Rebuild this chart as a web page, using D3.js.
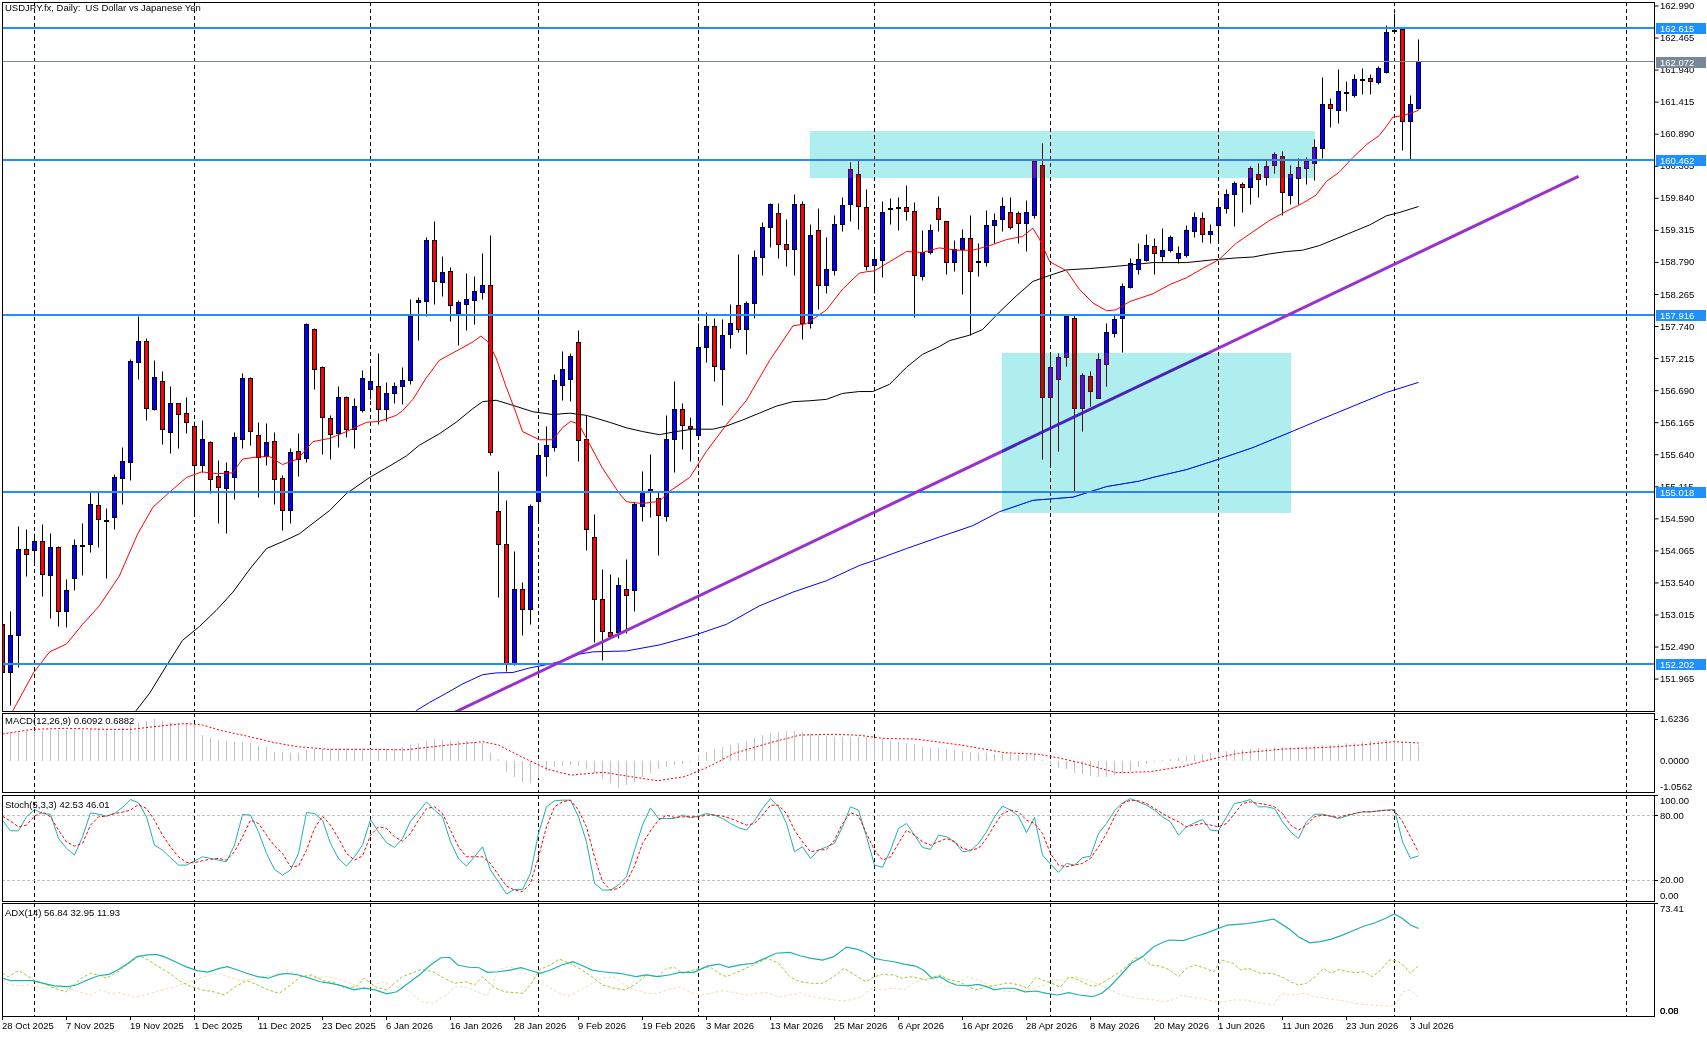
<!DOCTYPE html>
<html>
<head>
<meta charset="utf-8">
<script src="https://cdn.jsdelivr.net/npm/d3@7/dist/d3.min.js"></script>
<style>
	body { margin: 0; background: #fff; }
	svg { display: block; isolation: isolate; }
	svg text { font-family: "Liberation Sans", Arial, sans-serif; font-size: 9.5px; fill: #000; white-space: pre; }
</style>
</head>
<body>
<svg id="chart" width="1707" height="1037"></svg>
<script>
	/*globals d3*/
	'use strict';

	// ---- data ----
	var opens = [152.854,152.065,152.667,154.073,154.058,154.208,153.666,154.118,153.065,153.606,
		154.140,154.148,154.794,154.560,154.606,155.238,155.516,157.140,157.479,156.373,
		156.839,156.012,156.463,156.313,156.088,155.448,155.839,155.283,155.087,155.260,
		155.877,156.877,155.952,155.599,155.854,155.238,154.719,155.689,155.561,157.689,
		157.057,156.230,155.975,156.569,156.050,156.366,156.704,156.749,156.373,156.629,
		156.749,156.839,158.118,158.140,159.133,158.456,158.636,157.945,158.080,158.155,
		158.290,158.411,154.697,154.155,152.200,153.418,153.095,154.870,155.614,155.749,
		156.764,156.854,157.464,155.877,154.268,153.253,152.727,152.727,153.418,153.396,
		154.787,155.010,154.922,154.621,155.877,156.366,156.090,155.952,157.388,157.727,
		157.042,157.591,158.080,157.682,158.103,158.862,159.358,159.584,159.080,159.005,
		159.734,157.779,159.298,158.396,158.659,159.411,159.719,160.223,159.682,158.719,
		158.824,159.655,159.670,159.682,159.614,158.560,158.945,159.659,159.456,158.779,
		158.997,159.170,158.790,158.779,159.381,159.486,159.606,159.584,159.418,159.546,
		160.373,156.576,156.862,157.216,157.869,156.388,156.915,156.561,157.103,157.629,
		157.854,158.366,158.666,158.817,159.042,158.885,158.982,158.832,158.892,159.298,
		159.494,159.230,159.373,159.674,159.900,160.057,160.012,160.223,160.163,160.358,
		160.524,159.885,160.148,160.321,160.396,160.659,161.373,161.260,161.560,161.516,
		161.780,161.787,161.727,161.900,162.570,162.591,161.088,161.298];

	var highs = [152.930,153.058,154.449,154.411,154.336,154.486,154.343,154.130,153.591,154.246,
		154.509,155.012,155.012,154.757,155.313,155.749,157.193,157.892,157.539,157.178,
		156.990,156.742,156.470,156.576,156.178,156.185,155.850,155.539,155.501,155.990,
		156.967,156.900,156.163,156.140,155.990,155.298,155.734,155.975,157.779,157.700,
		157.080,156.276,156.742,156.580,156.561,157.005,157.042,157.291,156.817,156.817,
		157.065,158.178,158.208,159.185,159.456,158.885,158.704,158.155,158.599,158.546,
		158.922,159.230,155.358,154.885,154.043,153.531,154.809,155.787,156.088,156.952,
		157.328,157.291,157.666,156.276,154.659,153.757,153.666,153.621,153.922,154.847,
		155.358,155.636,155.010,156.276,156.824,156.463,156.238,157.779,157.967,157.869,
		157.854,158.095,158.907,158.140,158.982,159.433,159.749,159.749,159.486,159.900,
		159.772,159.396,159.659,159.193,159.546,159.847,160.411,160.448,159.982,159.020,
		159.772,159.832,159.847,160.035,159.757,159.298,159.396,159.869,159.460,159.148,
		159.321,159.546,159.095,159.636,159.576,159.847,159.847,159.610,159.794,160.448,
		160.734,157.291,157.291,157.907,157.907,156.967,156.990,157.291,157.779,157.907,
		158.433,158.847,159.095,159.245,159.170,159.343,159.223,159.042,159.381,159.599,
		159.600,159.396,159.794,159.982,160.110,160.088,160.351,160.396,160.448,160.576,
		160.599,160.373,160.486,160.501,160.802,161.817,161.463,161.937,161.749,161.855,
		161.952,161.855,161.990,162.666,162.854,162.610,161.516,162.441];

	var lows = [151.950,151.524,152.140,153.644,153.869,153.306,152.945,152.817,152.794,153.403,
		153.659,154.035,154.110,153.606,154.411,154.809,155.208,156.862,156.200,156.360,
		155.802,155.652,155.727,155.975,154.659,155.336,154.997,154.509,154.336,154.900,
		155.734,155.787,154.937,155.448,154.824,154.396,154.509,155.283,155.501,156.704,
		155.636,155.561,155.749,155.922,155.734,156.328,156.539,156.125,156.178,156.463,
		156.448,156.779,157.501,157.892,158.095,158.231,157.817,157.426,157.666,157.757,
		158.178,155.614,153.291,152.088,152.180,152.667,152.855,154.524,155.283,155.689,
		156.524,156.501,155.524,154.058,152.554,152.268,152.629,152.630,152.704,153.065,
		154.531,154.599,153.982,154.531,155.336,155.712,155.524,155.937,157.140,156.839,
		156.441,157.366,157.629,157.268,157.869,158.569,159.020,158.854,158.719,158.569,
		157.516,157.704,158.005,158.268,158.569,159.283,159.448,159.321,158.644,158.268,
		158.531,159.411,159.306,159.471,157.877,158.493,158.907,159.283,158.591,158.629,
		158.253,157.591,158.546,158.719,159.095,159.283,159.321,159.095,158.960,159.509,
		155.561,155.433,155.689,157.080,155.035,156.012,156.426,156.550,156.742,157.554,
		157.306,158.360,158.584,158.790,158.591,158.794,158.945,158.757,158.870,159.185,
		159.110,159.095,159.133,159.584,159.373,159.599,159.734,159.847,160.035,160.238,
		159.546,159.734,159.734,160.050,160.125,160.486,160.990,161.065,161.260,161.486,
		161.539,161.540,161.700,161.880,162.539,160.621,160.471,161.290];

	var closes = [152.065,152.667,154.073,153.997,154.208,153.666,154.118,153.065,153.411,154.148,
		154.150,154.809,154.561,154.550,155.260,155.516,157.163,157.479,156.388,156.900,
		156.050,156.479,156.290,156.163,155.448,155.877,155.238,155.110,155.358,155.915,
		156.877,156.012,155.599,155.824,155.238,154.712,155.674,155.561,157.757,157.042,
		156.238,155.975,156.569,156.050,156.426,156.885,156.839,156.373,156.636,156.749,
		156.854,157.892,158.155,159.133,158.456,158.621,158.080,158.118,158.170,158.298,
		158.411,155.674,154.155,152.193,153.418,153.095,154.787,155.621,155.787,156.854,
		157.027,157.238,155.862,154.396,153.253,152.727,152.667,153.494,153.320,154.809,
		155.012,155.058,154.644,155.877,156.366,156.110,156.050,157.388,157.727,157.065,
		157.591,157.779,157.682,158.103,158.862,159.358,159.734,159.080,159.005,159.734,
		157.779,159.223,158.396,158.659,159.411,159.719,160.298,159.697,158.719,158.824,
		159.606,159.665,159.675,159.614,158.569,158.945,159.298,159.471,158.779,158.997,
		159.170,158.636,158.800,159.381,159.471,159.697,159.358,159.418,159.606,160.433,
		156.576,157.065,157.230,157.892,156.388,156.930,156.667,157.193,157.629,157.854,
		158.381,158.757,158.832,159.057,158.922,158.982,159.193,158.922,159.298,159.524,
		159.230,159.283,159.674,159.900,160.073,160.012,160.321,160.148,160.351,160.546,
		159.937,160.223,160.336,160.433,160.659,161.373,161.306,161.576,161.565,161.779,
		161.785,161.742,161.952,162.554,162.580,161.088,161.373,162.072];

	// moving averages, [bar, price] read at intervals
	var maRed = [[-1,151.1],[1.3,151.44],[3.9,152.065],[5.9,152.403],[8,152.531],[10,152.854],[12.1,153.155],[14.6,153.644],
		[16.9,154.336],[18.8,154.772],[20.9,155.02],[23,155.26],[24.9,155.351],[26.9,155.321],[28.8,155.336],[30,155.561],
		[32.1,155.599],[33.4,155.6],[35,155.471],[36.9,155.561],[38.8,155.847],[40.9,155.899],[43,156.012],[45.5,156.163],
		[47.1,156.178],[49.2,156.276],[50,156.351],[51.3,156.539],[52.9,156.877],[54.6,157.178],[56.7,157.328],[58.8,157.479],
		[59.8,157.576],[60.7,157.479],[61.7,157.216],[62.9,156.764],[64.2,156.313],[65,156.012],[67.1,155.877],[68.8,155.877],
		[70,156.073],[71,156.178],[72,156.14],[73,155.899],[75,155.411],[77.1,154.997],[78,154.862],[80,154.832],[82.1,154.87],
		[83.4,155.035],[85.9,155.26],[88,155.689],[90.5,156.125],[93,156.524],[95.9,157.178],[98.8,157.742],[100.5,157.779],
		[103,158.005],[105,158.343],[107.1,158.606],[108,158.629],[109,158.644],[110.9,158.794],[113,158.96],[115,158.945],
		[117.1,159.02],[119.2,158.982],[121.3,158.982],[123.4,159.057],[125.5,159.155],[127.5,159.208],[128.8,159.343],
		[129.6,159.17],[130.9,158.794],[133,158.644],[134.6,158.343],[136.3,158.118],[138,157.99],[139.2,158.005],[140.9,158.14],
		[142.1,158.193],[143.8,158.268],[145.9,158.418],[148,158.531],[150,158.682],[152.1,158.832],[154.2,159.095],[156.3,159.283],
		[158.4,159.471],[160.5,159.621],[162.5,159.749],[164.2,159.885],[165.5,160.11],[167.1,160.26],[168.8,160.501],[170.5,160.712],
		[172.1,160.862],[173,161.012],[173.8,161.163],[175,161.185],[176.3,161.238],[177,161.275]];

	var maBlack = [[15,151.1],[16.7,151.44],[18.4,151.727],[20.5,152.178],[22.5,152.591],[24.6,152.817],[26.7,153.08],[28.8,153.381],
		[30.9,153.757],[33,154.095],[35,154.208],[37.1,154.336],[38.8,154.509],[40.9,154.719],[43,154.997],[45.9,155.26],[48.4,155.448],
		[50.5,155.614],[52.1,155.787],[54.6,155.975],[56.7,156.163],[58.8,156.388],[60,156.501],[61.7,156.524],[63.8,156.441],
		[66.3,156.336],[68.8,156.29],[70.9,156.313],[73,156.276],[75.9,156.163],[78,156.073],[80,156.012],[82.1,155.96],[84.2,156.012],
		[86.3,156.05],[88.8,156.05],[90.5,156.103],[92.5,156.2],[94.6,156.313],[96.7,156.426],[98.8,156.501],[100.9,156.516],
		[103,156.539],[105,156.636],[107.1,156.667],[108.8,156.667],[110.9,156.787],[113,157.065],[115,157.276],[117.1,157.403],
		[118.4,157.501],[120.9,157.591],[122.5,157.682],[124.6,157.967],[126.7,158.231],[128.8,158.471],[130.9,158.569],[133,158.659],
		[135.9,158.682],[138,158.704],[140.5,158.734],[143.8,158.779],[148,158.779],[151.3,158.824],[154.2,158.855],[156.3,158.87],
		[158.4,158.922],[160.5,158.96],[162.5,158.982],[164.6,159.057],[166.7,159.17],[168.8,159.283],[170.9,159.396],[173,159.546],
		[174.6,159.599],[177,159.697]];

	var maBlue = [[50,151.2],[51.7,151.44],[53.4,151.576],[55.5,151.727],[57.5,151.877],[60,152.028],[61.7,152.058],[63.8,152.065],
		[65.9,152.14],[68,152.193],[70,152.253],[72.1,152.366],[73.8,152.403],[78,152.418],[82.1,152.516],[86.3,152.667],[90.5,152.854],
		[94.6,153.155],[98.8,153.381],[103,153.569],[107.1,153.817],[108.8,153.892],[113,154.095],[117.1,154.283],[121.3,154.471],
		[124.6,154.697],[128.8,154.885],[133.8,154.937],[138,155.11],[142.1,155.2],[143.8,155.26],[148,155.388],[152.1,155.561],
		[156.3,155.749],[160.5,155.975],[164.6,156.2],[168.8,156.426],[173,156.652],[177,156.817]];

	var levels = [162.615, 160.462, 157.916, 155.018, 152.202];
	var lastPrice = 162.072;
	var priceTicks = [162.990,162.465,161.940,161.415,160.890,160.365,159.840,159.315,158.790,158.265,157.740,
		157.215,156.690,156.165,155.640,155.115,154.590,154.065,153.540,153.015,152.490,151.965];
	var zones = [{from: 101, to: 164, top: 160.936, bottom: 160.169}, {from: 125, to: 161, top: 157.298, bottom: 154.679}];
	var trendPoints = [[40, 150.38], [197, 160.19]];

	var dateLabels = ['28 Oct 2025','7 Nov 2025','19 Nov 2025','1 Dec 2025','11 Dec 2025','23 Dec 2025','6 Jan 2026',
		'16 Jan 2026','28 Jan 2026','9 Feb 2026','19 Feb 2026','3 Mar 2026','13 Mar 2026','25 Mar 2026','6 Apr 2026',
		'16 Apr 2026','28 Apr 2026','8 May 2026','20 May 2026','1 Jun 2026','11 Jun 2026','23 Jun 2026','3 Jul 2026'];
	var dateLabelStep = 8;
	var periodStarts = [4, 24, 46, 67, 87, 109, 131, 152, 174, 203];

	var macdHist = [1.09,1.09,1.14,1.14,1.14,1.14,1.19,1.19,1.19,1.19,1.19,1.23,1.23,1.23,1.23,1.26,1.45,1.52,1.54,1.62,
		1.54,1.51,1.48,1.45,1.43,1.00,0.87,0.80,0.78,0.74,0.71,0.67,0.57,0.52,0.35,0.32,0.31,0.31,0.42,0.45,
		0.44,0.44,0.44,0.45,0.45,0.45,0.44,0.44,0.44,0.45,0.55,0.61,0.70,0.78,0.83,0.80,0.77,0.78,0.75,0.74,
		0.67,0.29,0.05,-0.43,-0.62,-0.82,-0.88,-0.69,-0.39,-0.26,-0.21,-0.17,-0.21,-0.34,-0.49,-0.73,-0.88,-1.05,-0.96,-0.82,
		-0.62,-0.47,-0.34,-0.23,-0.18,-0.13,-0.04,0.22,0.35,0.44,0.52,0.61,0.67,0.78,0.87,1.00,1.09,1.12,1.16,1.17,
		1.13,1.04,1.00,0.96,0.93,0.93,0.93,0.93,0.93,0.87,0.83,0.78,0.74,0.67,0.64,0.55,0.51,0.48,0.44,0.42,
		0.38,0.35,0.31,0.29,0.26,0.25,0.25,0.23,0.22,0.25,0.03,-0.17,-0.30,-0.34,-0.47,-0.53,-0.60,-0.62,-0.62,-0.56,
		-0.49,-0.39,-0.26,-0.14,-0.06,0.03,0.06,0.12,0.18,0.23,0.27,0.29,0.32,0.36,0.40,0.43,0.45,0.48,0.51,0.52,
		0.53,0.53,0.55,0.56,0.57,0.60,0.62,0.65,0.67,0.70,0.73,0.75,0.78,0.80,0.82,0.72,0.64,0.61];
	var macdSignal = [[0,1.04],[3.7,1.22],[7.9,1.26],[13.3,1.22],[16.1,1.22],[18.8,1.32],[22.9,1.45],[25,1.39],[27.1,1.19],
		[30.5,0.96],[33.9,0.71],[36.7,0.55],[40.8,0.44],[46.3,0.44],[50.4,0.42],[54.5,0.57],[60,0.74],[62,0.61],[64.8,0.16],
		[68.2,-0.34],[71,-0.56],[75.1,-0.45],[78.5,-0.62],[81.9,-0.78],[85.3,-0.62],[88.1,-0.26],[91.5,0.29],[95.6,0.67],
		[99.7,1.0],[103.9,1.03],[107.1,0.99],[110,0.87],[114.2,0.84],[119.8,0.61],[125.3,0.31],[129.5,0.25],[132.3,0.09],
		[135,-0.10],[139.2,-0.47],[143.4,-0.43],[147.5,-0.23],[151,0.05],[154.5,0.29],[160,0.45],[165.6,0.52],[169.8,0.61],
		[173.9,0.74],[177,0.69]];
	var macdTicks = [1.6236, 0, -1.0562];

	var stochK = [76.0,66.1,66.1,79.1,86.0,82.2,81.6,58.9,49.6,43.4,60.5,82.9,81.6,79.8,82.2,88.0,95.3,92.2,79.1,52.7,
		48.0,41.0,34.0,34.0,38.0,41.8,40.3,38.7,37.2,52.7,81.3,80.7,65.1,44.9,30.0,24.7,29.4,44.9,83.2,82.2,
		76.0,54.3,40.0,33.1,41.8,52.7,76.6,65.1,55.0,50.5,58.9,75.0,83.8,93.1,85.4,79.1,55.8,40.0,33.1,41.8,
		51.1,29.4,18.5,7.0,11.3,11.3,26.3,63.6,88.5,94.1,94.7,94.7,79.1,55.8,16.9,10.7,10.7,15.4,23.2,48.0,
		71.4,87.5,77.6,77.6,77.6,80.7,78.5,79.8,82.2,80.7,77.6,72.9,69.0,66.7,75.4,86.9,96.2,88.5,72.9,46.5,
		51.1,40.3,48.0,51.1,54.3,69.8,88.5,85.4,60.5,34.0,31.9,48.0,68.3,72.9,62.0,50.5,48.7,62.0,60.5,55.8,
		46.5,47.4,54.3,65.1,79.1,89.1,85.4,79.8,64.5,78.5,43.4,35.0,27.2,35.6,34.0,40.9,42.4,63.6,72.9,84.7,
		92.2,96.2,93.1,90.0,85.4,79.1,74.5,62.0,69.8,73.5,76.6,66.7,66.1,79.1,91.6,93.1,95.3,88.5,88.5,86.9,
		74.5,65.1,58.9,74.5,81.6,81.6,79.8,77.6,79.8,82.2,83.8,83.8,84.7,85.4,86.0,55.8,40.3,42.53];
	var stochD = [79.8,75.0,69.8,71.4,79.8,83.8,79.1,66.7,55.8,51.7,54.3,71.4,79.1,79.8,82.2,83.5,85.4,90.6,86.9,76.0,
		62.0,51.1,41.8,36.5,36.2,38.1,39.5,40.3,38.7,46.5,60.5,76.0,72.9,62.0,52.0,44.9,32.5,33.1,48.0,68.3,
		79.8,71.4,59.0,44.9,38.7,42.4,62.0,69.8,68.3,60.5,56.4,63.6,76.0,86.9,88.5,82.2,66.7,51.1,41.8,41.8,
		41.8,35.6,24.7,14.5,10.7,9.2,17.0,41.8,69.8,88.5,93.1,94.7,85.4,69.8,41.8,18.5,10.7,12.3,18.5,33.1,
		54.3,66.0,76.0,80.7,78.5,79.1,79.1,79.1,80.7,80.7,79.8,77.6,74.5,71.4,72.9,80.7,90.0,90.0,82.2,66.7,
		55.8,46.5,48.0,48.7,57.4,72.9,83.0,80.0,63.6,48.0,38.7,41.8,54.3,66.7,62.0,55.8,52.7,55.8,58.9,55.8,
		49.6,48.0,49.6,58.9,71.4,82.2,85.4,83.8,76.0,72.9,63.6,44.9,34.0,32.5,34.0,35.6,40.3,51.1,63.6,79.1,
		91.6,94.7,94.1,91.6,86.9,82.2,78.0,74.5,69.8,71.4,72.9,71.4,69.8,72.9,82.2,91.6,93.1,91.6,90.6,88.5,
		82.2,71.4,66.7,71.4,79.1,80.7,79.8,78.5,80.7,82.2,83.8,83.8,84.7,85.4,85.0,74.5,60.5,46.01];
	var stochLevels = [80, 20];
	var stochTicks = [100, 80, 20, 0];

	var adxMain = [[0,24.6],[1,23.0],[2.4,23.0],[3.7,23.0],[5.1,21.3],[6.5,19.6],[8.2,19.1],[9.2,20.2],[10.6,23.4],[12,26.2],
		[13.3,27.1],[14.4,29.9],[15.7,34.3],[16.8,38.6],[18.1,39.7],[19.2,40.1],[20.2,38.6],[21.6,35.3],[22.9,32.1],[24.3,29.5],
		[25.7,28.6],[27.1,31.0],[28.1,32.1],[29.1,30.4],[30.5,27.8],[31.9,25.6],[33.2,24.6],[34.6,27.1],[35.6,27.8],[37,26.7],
		[38.4,24.6],[39.7,22.3],[41.1,21.3],[42.5,19.6],[43.9,17.0],[45.2,18.1],[46.6,17.0],[48,14.4],[49.3,15.8],[50.7,21.3],
		[52.1,26.7],[53.5,33.2],[54.8,37.9],[55.9,38.2],[56.9,33.2],[58.3,31.7],[59.6,31.4],[60.6,28.4],[62,28.8],[63.4,29.9],
		[64.8,31.4],[65.8,29.9],[67.2,27.8],[68.5,29.9],[69.9,33.2],[71.3,35.3],[72.3,33.2],[73.7,29.9],[75,28.8],[77.1,27.8],
		[79.2,25.6],[80.5,26.7],[81.9,25.6],[83.3,26.7],[84.7,28.4],[86.4,28.4],[88.1,32.4],[89.5,33.8],[90.8,31.7],[92.2,33.2],
		[93.9,34.3],[95.3,37.5],[96.7,40.8],[98.4,41.4],[99.7,39.2],[101.1,37.5],[102.5,36.4],[103.9,38.6],[105.5,44.8],
		[106.9,43.3],[107.9,41.1],[109,37.5],[110,36.4],[111.4,35.3],[112.7,33.8],[114.1,32.5],[115.1,29.9],[116.2,24.6],
		[117.2,25.6],[118.2,22.3],[119.2,20.2],[120.6,19.7],[122,20.6],[123,19.1],[124,17.0],[125.1,18.1],[126.4,18.1],
		[127.8,15.8],[129.2,16.3],[130.5,14.8],[131.9,13.7],[133.3,15.2],[134.6,13.7],[136.3,12.6],[137.4,14.8],[138.4,19.1],
		[139.8,26.7],[141.1,34.3],[142.5,38.6],[143.9,45.0],[145.2,48.3],[145.9,49.4],[147.6,49.0],[149,51.5],[150.4,53.7],
		[151.7,56.3],[153.1,59.1],[155.2,59.8],[157.2,61.3],[158.9,63.0],[159.9,59.7],[161,55.9],[162,51.5],[163.4,47.6],
		[164.7,48.3],[166.1,50.0],[167.5,52.6],[168.8,55.4],[170.2,58.5],[171.6,60.6],[172.9,63.5],[174,66.3],[175,63.4],
		[176,59.1],[177,56.84]];
	var adxPlus = [[0,27.8],[0.7,25.6],[2,29.5],[3.1,26.1],[4.1,23.0],[5.1,21.3],[6.5,18.1],[7.9,15.8],[8.9,20.2],[9.9,24.6],
		[11,27.8],[12,26.7],[13,24.6],[14.4,28.8],[15.7,33.8],[17.1,39.0],[18.1,36.8],[19.5,32.1],[20.9,27.8],[22.3,22.3],
		[23.6,19.1],[25,17.0],[26.4,15.8],[27.7,13.7],[29.1,19.1],[30.5,23.0],[31.9,20.2],[33.2,17.0],[34.6,14.8],[36,20.2],
		[37.3,25.6],[38.7,26.7],[40.1,23.0],[41.5,21.7],[42.8,18.1],[44.2,19.1],[45.2,24.6],[46.6,19.1],[48,17.0],[49,21.3],
		[50,25.6],[51.1,27.8],[52.4,30.4],[53.8,28.8],[55.2,24.6],[56.5,21.3],[57.9,22.3],[59,20.2],[60,25.6],[61.3,19.1],
		[62.7,15.8],[64.1,15.2],[65.1,14.8],[66.1,21.3],[67.2,30.4],[68.5,33.2],[69.6,37.0],[70.9,34.3],[72.3,30.4],[73.7,25.6],
		[75,20.2],[76.4,18.1],[77.8,17.0],[79.2,21.0],[80.5,26.7],[81.9,25.6],[83,31.0],[84,31.6],[85,27.8],[86.4,30.0],
		[87.4,31.0],[88.4,32.1],[89.5,27.8],[90.5,25.6],[91.5,27.8],[92.9,31.0],[94.3,34.3],[95.6,37.5],[97,34.3],[98.4,25.6],
		[99.7,22.3],[101.1,21.3],[102.5,21.3],[103.9,25.6],[105.2,31.0],[106.9,25.6],[107.9,22.3],[109,25.6],[110,27.1],
		[111.4,26.7],[112.4,24.6],[113.4,25.6],[114.5,24.6],[115.5,23.4],[116.5,25.6],[117.2,26.7],[118.2,23.9],[119.6,22.3],
		[120.6,19.5],[121.6,17.0],[123,19.1],[124.4,20.2],[125.7,21.7],[127.1,20.2],[128.1,18.1],[129.2,25.2],[130.2,23.0],
		[131.2,21.3],[132.2,18.7],[133.3,25.6],[134.3,23.9],[135.3,21.3],[136.3,19.1],[137.4,21.3],[138.4,24.6],[139.4,27.8],
		[140.5,32.1],[141.5,37.5],[142.5,38.2],[143.5,33.2],[144.6,32.6],[145.9,30.0],[147,25.6],[148,31.0],[149,33.2],
		[150.4,31.0],[151.4,28.8],[152.4,36.4],[153.8,34.3],[154.8,30.0],[155.8,31.0],[157.2,27.8],[158.6,27.8],[159.9,25.6],
		[161,22.3],[162,20.2],[163,21.3],[164.1,25.6],[165.1,31.0],[166.1,27.8],[167.1,30.4],[168.2,28.8],[169.2,28.2],
		[170.2,28.8],[171.2,25.6],[172.3,29.9],[173.3,36.4],[174.3,36.0],[175.3,32.1],[176,27.8],[177,32.95]];
	var adxMinus = [[0,23.4],[0.7,20.8],[1.7,19.5],[3.1,20.2],[4.4,19.1],[5.8,18.1],[7.2,19.1],[8.2,18.1],[9.6,15.8],[10.9,13.7],
		[12.3,17.0],[13.3,14.8],[14.7,15.2],[16.4,12.2],[17.8,13.7],[19.2,15.8],[20.2,17.4],[21.6,19.1],[22.9,21.3],[24.3,23.9],
		[25.7,26.7],[27,27.8],[28.4,25.2],[29.8,23.0],[31.2,23.9],[32.5,25.6],[33.9,26.7],[35.3,29.9],[36.6,27.8],[38,25.6],
		[39.4,25.0],[40.8,25.6],[42.1,23.9],[43.5,21.3],[44.9,18.1],[46.3,20.2],[47.6,22.3],[49,19.1],[50.7,17.0],[52.4,9.4],
		[53.8,8.3],[55.2,12.6],[56.5,19.1],[57.9,19.1],[59.3,15.8],[60.6,13.1],[62,29.9],[63.1,32.1],[64.1,31.0],[65.5,27.8],
		[66.8,24.6],[68.2,19.1],[69.6,14.8],[70.9,13.1],[72.3,17.0],[73.7,21.3],[75,24.6],[76.4,25.6],[77.8,20.2],[79.2,17.0],
		[80.9,14.4],[81.9,14.8],[83.3,17.4],[84.7,19.1],[86,15.2],[87.4,13.7],[88.8,15.2],[90.1,16.5],[91.5,15.2],[92.9,13.7],
		[94.3,14.8],[95.6,15.2],[97,12.6],[98.4,13.7],[99.7,15.2],[101.1,12.6],[102.5,11.5],[103.9,10.5],[105.2,9.8],
		[107.3,12.2],[108.6,18.1],[110,17.0],[111.4,18.1],[112.7,17.0],[114.1,22.3],[115.5,24.6],[116.8,23.4],[117.9,19.1],
		[119.2,20.8],[120.6,25.6],[122,23.4],[123.3,20.2],[124.7,17.0],[126.1,15.8],[127.8,17.0],[129.2,18.7],[130.2,20.2],
		[131.2,23.4],[132.6,23.4],[134,25.6],[135.3,23.9],[136.7,21.3],[138.1,18.1],[139.4,14.8],[140.8,12.6],[142.2,11.5],
		[143.5,10.9],[144.9,9.4],[146.3,10.5],[147.3,13.7],[148.3,12.6],[149.7,11.5],[151.1,10.0],[152.4,8.7],[153.8,10.5],
		[155.2,10.5],[156.5,9.4],[157.9,7.9],[158.9,7.2],[159.9,14.8],[161.3,13.7],[162.7,14.8],[164.1,12.6],[165.4,11.5],
		[166.8,10.5],[168.2,9.4],[169.5,7.9],[170.9,7.4],[172.3,6.6],[173.6,6.6],[174.3,8.3],[175,15.8],[176,17.0],[177,11.93]];
	var adxTicks = [73.41, 0.08];

	// ---- layout ----
	var W = 1707, H = 1037;
	var plotLeft = 2, plotRight = 1654;
	var panes = {
		main: {id: 'main', top: 2, bottom: 711},
		macd: {id: 'macd', top: 713, bottom: 792},
		stoch: {id: 'stoch', top: 795, bottom: 901},
		adx: {id: 'adx', top: 903, bottom: 1016}
	};

	var svg = d3.select('#chart');
	svg.append('rect').attr('width', W).attr('height', H).attr('fill', '#fff');
	var defs = svg.append('defs');

	function crisp(v) {
		return Math.round(v - 0.5) + 0.5;
	}

	var x = d3.scaleLinear().domain([0, 1]).range([2.5, 10.5]);
	var yMain = d3.scaleLinear().domain([151.965, 162.99]).range([678.6, 5.5]);
	var yMacd = d3.scaleLinear().domain([-1.0562, 1.6236]).range([787.8, 719]);
	var yStoch = d3.scaleLinear().domain([0, 100]).range([901.5, 794.5]);
	var yAdx = d3.scaleLinear().domain([0.08, 73.41]).range([1016, 903]);

	function paneGroup(p) {
		defs.append('clipPath').attr('id', 'clip-' + p.id)
			.append('rect')
			.attr('x', plotLeft + 1).attr('y', p.top + 1)
			.attr('width', plotRight - plotLeft - 1).attr('height', p.bottom - p.top - 1);
		var g = svg.append('g').attr('clip-path', 'url(#clip-' + p.id + ')');
		// period separators
		g.selectAll('line.sep').data(periodStarts).join('line')
			.attr('class', 'sep')
			.attr('x1', function (d) { return x(d); })
			.attr('x2', function (d) { return x(d); })
			.attr('y1', p.top).attr('y2', p.bottom)
			.attr('stroke', '#000').attr('stroke-dasharray', '4,3');
		return g;
	}

	function paneFrame(p) {
		svg.append('rect')
			.attr('x', plotLeft + 0.5).attr('y', p.top + 0.5)
			.attr('width', plotRight - plotLeft).attr('height', p.bottom - p.top)
			.attr('fill', 'none').attr('stroke', '#000');
	}

	function pairLine(scale) {
		return d3.line()
			.x(function (d) { return x(d[0]); })
			.y(function (d) { return scale(d[1]); });
	}

	function barLine(scale) {
		return d3.line()
			.x(function (d, i) { return x(i); })
			.y(function (d) { return scale(d); });
	}

	function paneLabels(p, scale, vals, fmt, tickAt) {
		var g = svg.append('g');
		vals.forEach(function (v) {
			var yv = scale(v);
			var ty = Math.max(p.top + 5.5, Math.min(p.bottom - 5.5, yv));
			if (tickAt.indexOf(v) >= 0) {
				var tk = crisp(Math.max(p.top, Math.min(p.bottom, yv)));
				g.append('line').attr('x1', plotRight).attr('x2', plotRight + 4)
					.attr('y1', tk).attr('y2', tk).attr('stroke', '#000');
			}
			g.append('text').attr('x', plotRight + 6).attr('y', ty).attr('dy', '0.35em').text(fmt(v));
		});
	}

	// ---- main pane ----
	var gMain = paneGroup(panes.main);
	var idx = d3.range(opens.length);

	// candles
	var candles = gMain.append('g');
	candles.selectAll('line').data(idx).join('line')
		.attr('x1', function (i) { return x(i); })
		.attr('x2', function (i) { return x(i); })
		.attr('y1', function (i) { return crisp(yMain(highs[i])); })
		.attr('y2', function (i) { return crisp(yMain(lows[i])); })
		.attr('stroke', '#000');
	candles.selectAll('rect').data(idx).join('rect')
		.attr('x', function (i) { return x(i) - 2; })
		.attr('y', function (i) { return crisp(Math.min(yMain(opens[i]), yMain(closes[i]))); })
		.attr('width', 4)
		.attr('height', function (i) { return Math.max(1, Math.round(Math.abs(yMain(opens[i]) - yMain(closes[i])))); })
		.attr('fill', function (i) { return closes[i] >= opens[i] ? '#0000ff' : '#ff0000'; })
		.attr('stroke', '#000');

	// moving averages
	gMain.append('path').datum(maBlue).attr('d', pairLine(yMain))
		.attr('fill', 'none').attr('stroke', '#0000ff').attr('stroke-width', 1);
	gMain.append('path').datum(maBlack).attr('d', pairLine(yMain))
		.attr('fill', 'none').attr('stroke', '#000').attr('stroke-width', 1);
	gMain.append('path').datum(maRed).attr('d', pairLine(yMain))
		.attr('fill', 'none').attr('stroke', '#ff0000').attr('stroke-width', 1);

	// horizontal levels and last price
	gMain.append('line')
		.attr('x1', plotLeft).attr('x2', plotRight)
		.attr('y1', crisp(yMain(lastPrice))).attr('y2', crisp(yMain(lastPrice)))
		.attr('stroke', '#778899');
	gMain.selectAll('line.lvl').data(levels).join('line')
		.attr('class', 'lvl')
		.attr('x1', plotLeft).attr('x2', plotRight)
		.attr('y1', function (d) { return Math.round(yMain(d)); })
		.attr('y2', function (d) { return Math.round(yMain(d)); })
		.attr('stroke', '#1e90ff').attr('stroke-width', 2);

	// trend line
	gMain.append('path').datum(trendPoints).attr('d', pairLine(yMain))
		.attr('fill', 'none').attr('stroke', '#9932cc').attr('stroke-width', 3);

	// rectangles: kept at the top level so they invert what lies under them, as the terminal does
	svg.append('g').selectAll('rect').data(zones).join('rect')
		.attr('x', function (d) { return x(d.from) - 0.5; })
		.attr('y', function (d) { return Math.round(yMain(d.top)); })
		.attr('width', function (d) { return x(d.to) - x(d.from) + 1; })
		.attr('height', function (d) { return Math.round(yMain(d.bottom)) - Math.round(yMain(d.top)); })
		.attr('fill', 'rgb(80,17,17)')
		.style('mix-blend-mode', 'difference');

	svg.append('text').attr('x', 5).attr('y', 10.5).text('USDJPY.fx, Daily:  US Dollar vs Japanese Yen');
	paneFrame(panes.main);

	// price axis
	var yAxis = d3.axisRight(yMain).tickValues(priceTicks).tickSize(4).tickPadding(2)
		.tickFormat(d3.format('.3f'));
	svg.append('g').attr('transform', 'translate(' + (plotRight + 0.5) + ',0)')
		.call(yAxis)
		.call(function (g) { g.select('.domain').remove(); })
		.call(function (g) {
			g.attr('font-size', null).attr('font-family', null);
			g.selectAll('text').attr('x', 5.5);
		});

	function priceTag(v, color) {
		var cy = Math.round(yMain(v));
		svg.append('rect').attr('x', plotRight + 2).attr('y', cy - 5).attr('width', 50).attr('height', 11).attr('fill', color);
		svg.append('text').attr('x', plotRight + 6).attr('y', cy + 0.5).attr('dy', '0.35em')
			.style('fill', '#fff').text(v.toFixed(3));
	}
	levels.forEach(function (v) { priceTag(v, '#1e90ff'); });
	priceTag(lastPrice, '#778899');

	// ---- MACD ----
	var gMacd = paneGroup(panes.macd);
	gMacd.selectAll('line.hist').data(macdHist).join('line')
		.attr('class', 'hist')
		.attr('x1', function (d, i) { return x(i); })
		.attr('x2', function (d, i) { return x(i); })
		.attr('y1', Math.round(yMacd(0)))
		.attr('y2', function (d) { return Math.round(yMacd(d)); })
		.attr('stroke', '#c0c0c0');
	gMacd.append('path').datum(macdSignal).attr('d', pairLine(yMacd))
		.attr('fill', 'none').attr('stroke', '#ff0000').attr('stroke-dasharray', '2,2');
	svg.append('text').attr('x', 5).attr('y', 723.5).text('MACD(12,26,9) 0.6092 0.6882');
	paneFrame(panes.macd);
	paneLabels(panes.macd, yMacd, macdTicks, function (v) { return v.toFixed(4); }, [1.6236]);

	// ---- Stochastic ----
	var gStoch = paneGroup(panes.stoch);
	gStoch.selectAll('line.lvl').data(stochLevels).join('line')
		.attr('class', 'lvl')
		.attr('x1', plotLeft).attr('x2', plotRight)
		.attr('y1', function (d) { return crisp(yStoch(d)); })
		.attr('y2', function (d) { return crisp(yStoch(d)); })
		.attr('stroke', '#c0c0c0').attr('stroke-dasharray', '3,2');
	gStoch.append('path').datum(stochK).attr('d', barLine(yStoch))
		.attr('fill', 'none').attr('stroke', '#20b2aa');
	gStoch.append('path').datum(stochD).attr('d', barLine(yStoch))
		.attr('fill', 'none').attr('stroke', '#ff0000').attr('stroke-dasharray', '3,2');
	svg.append('text').attr('x', 5).attr('y', 807.5).text('Stoch(5,3,3) 42.53 46.01');
	paneFrame(panes.stoch);
	paneLabels(panes.stoch, yStoch, stochTicks, function (v) { return v.toFixed(2); }, [100, 80, 20]);

	// ---- ADX ----
	var gAdx = paneGroup(panes.adx);
	gAdx.append('path').datum(adxMinus).attr('d', pairLine(yAdx))
		.attr('fill', 'none').attr('stroke', '#f5deb3').attr('stroke-dasharray', '3,2');
	gAdx.append('path').datum(adxPlus).attr('d', pairLine(yAdx))
		.attr('fill', 'none').attr('stroke', '#9acd32').attr('stroke-dasharray', '3,2');
	gAdx.append('path').datum(adxMain).attr('d', pairLine(yAdx))
		.attr('fill', 'none').attr('stroke', '#20b2aa').attr('stroke-width', 1.2);
	svg.append('text').attr('x', 5).attr('y', 915.5).text('ADX(14) 56.84 32.95 11.93');
	paneFrame(panes.adx);
	paneLabels(panes.adx, yAdx, adxTicks, function (v) { return v.toFixed(2); }, [73.41]);
	paneLabels(panes.adx, yAdx, [0], function (v) { return v.toFixed(2); }, []);

	// ---- time axis ----
	var gTime = svg.append('g');
	gTime.selectAll('line').data(dateLabels).join('line')
		.attr('x1', function (d, k) { return x(k * dateLabelStep); })
		.attr('x2', function (d, k) { return x(k * dateLabelStep); })
		.attr('y1', panes.adx.bottom).attr('y2', panes.adx.bottom + 4)
		.attr('stroke', '#000');
	gTime.selectAll('text').data(dateLabels).join('text')
		.attr('x', function (d, k) { return x(k * dateLabelStep) - 0.5; })
		.attr('y', 1029)
		.text(function (d) { return d; });
</script>
</body>
</html>
